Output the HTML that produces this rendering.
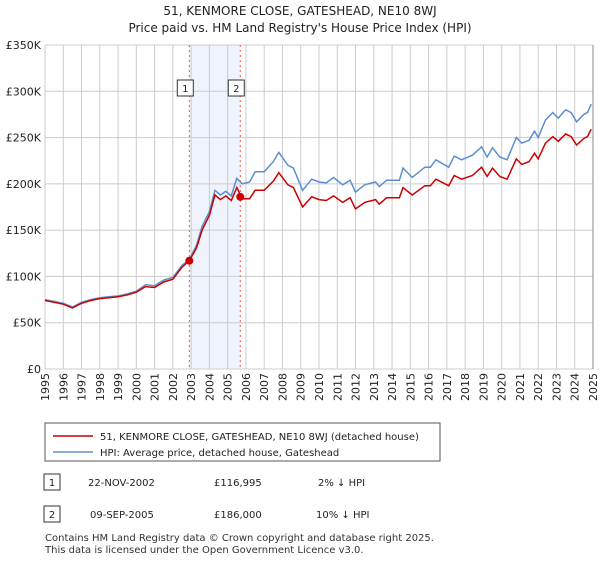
<!DOCTYPE html>
<html><head><meta charset="utf-8"><style>
body{margin:0;background:#fff;font-family:"Liberation Sans","DejaVu Sans",sans-serif;}
svg text{font-family:"DejaVu Sans","Liberation Sans",sans-serif;}
</style></head><body>
<svg width="600" height="560" xmlns="http://www.w3.org/2000/svg" id="c">
<text x="300" y="15" text-anchor="middle" font-size="12" fill="#222">51, KENMORE CLOSE, GATESHEAD, NE10 8WJ</text>
<text x="300" y="32" text-anchor="middle" font-size="12" fill="#222">Price paid vs. HM Land Registry's House Price Index (HPI)</text>
<g id="grid"></g>
<g id="marks"></g>
<g>
<rect x="45" y="423" width="395" height="38" fill="#fff" stroke="#555"/>
<line x1="53" y1="436" x2="93" y2="436" stroke="#cc0000" stroke-width="1.5"/>
<text x="100" y="440" font-size="10" fill="#222">51, KENMORE CLOSE, GATESHEAD, NE10 8WJ (detached house)</text>
<line x1="53" y1="452" x2="93" y2="452" stroke="#5b8fd0" stroke-width="1.5"/>
<text x="100" y="456" font-size="10" fill="#222">HPI: Average price, detached house, Gateshead</text>
</g>
<g font-size="10" fill="#222">
<rect x="44" y="474" width="16" height="16" fill="#fff" stroke="#333"/>
<text x="52" y="486" text-anchor="middle">1</text>
<text x="88" y="486">22-NOV-2002</text>
<text x="214" y="486">£116,995</text>
<text x="318" y="486">2% ↓ HPI</text>
<rect x="44" y="506" width="16" height="16" fill="#fff" stroke="#333"/>
<text x="52" y="518" text-anchor="middle">2</text>
<text x="90" y="518">09-SEP-2005</text>
<text x="214" y="518">£186,000</text>
<text x="316" y="518">10% ↓ HPI</text>
</g>
<text x="45" y="541" font-size="10" fill="#333">Contains HM Land Registry data © Crown copyright and database right 2025.</text>
<text x="45" y="553" font-size="10" fill="#333">This data is licensed under the Open Government Licence v3.0.</text>
</svg>
<script>
const yTicks=[0,50,100,150,200,250,300,350];
const yTickLabels=["£0","£50K","£100K","£150K","£200K","£250K","£300K","£350K"];
const xYears=[1995,1996,1997,1998,1999,2000,2001,2002,2003,2004,2005,2006,2007,2008,2009,2010,2011,2012,2013,2014,2015,2016,2017,2018,2019,2020,2021,2022,2023,2024,2025];
const hpiT=[1995,1995.5,1996,1996.5,1997,1997.5,1998,1998.5,1999,1999.5,2000,2000.5,2001,2001.5,2002,2002.5,2002.9,2003.3,2003.6,2004,2004.3,2004.6,2004.9,2005.2,2005.5,2005.8,2006.2,2006.5,2007,2007.5,2007.8,2008.3,2008.6,2009.1,2009.6,2010.0,2010.4,2010.8,2011.3,2011.7,2012.0,2012.5,2013.1,2013.3,2013.7,2014.4,2014.6,2015.1,2015.8,2016.1,2016.4,2017.1,2017.4,2017.8,2018.4,2018.9,2019.2,2019.5,2019.9,2020.3,2020.8,2021.1,2021.5,2021.8,2022.0,2022.4,2022.8,2023.1,2023.5,2023.8,2024.1,2024.5,2024.7,2024.9];
const hpiV=[75,73,71,67,72,75,77,78,79,81,84,91,90,96,99,112,118,134,154,170,193,188,192,187,206,200,202,213,213,224,234,220,217,193,205,202,201,207,199,204,191,199,202,197,204,204,217,207,218,218,226,218,230,226,231,240,229,239,229,226,250,244,247,257,250,269,277,271,280,277,267,275,277,286];
const priceV=[74,72,70,66,71,74,76,77,78,80,83,89,88,94,97,110,117,131,150,166,188,183,187,182,196,184,184,193,193,203,212,199,196,175,186,183,182,187,180,185,173,180,183,178,185,185,196,188,198,198,205,198,209,205,209,218,208,217,208,205,227,221,224,233,227,244,251,246,254,251,242,249,251,259];
const saleT=[2002.9,2005.69];
const saleV=[116.995,186];
const X0=45,X1=593,Y0=369,Y1=45;
const xs=t=>X0+(t-1995)/30*(X1-X0);
const ys=v=>Y0-v/350*(Y0-Y1);
const NS="http://www.w3.org/2000/svg";
function mk(tag,attrs,parent){const e=document.createElementNS(NS,tag);for(const k in attrs)e.setAttribute(k,attrs[k]);parent.appendChild(e);return e;}
const g=document.getElementById('grid'),m=document.getElementById('marks');
const band=mk('rect',{x:xs(saleT[0]),y:Y1,width:xs(saleT[1])-xs(saleT[0]),height:Y0-Y1,fill:'#eef3fc'},g);


yTicks.forEach((v,i)=>{
 const l=mk('line',{x1:X0,x2:X1,y1:ys(v),y2:ys(v),stroke:'#cccccc'},g);
 
 
 const t=mk('text',{x:X0-4,y:ys(v)+4,'text-anchor':'end','font-size':'11',fill:'#222'},g);
 t.textContent=yTickLabels[i];
 
 
});
xYears.forEach(yr=>{
 const l=mk('line',{x1:xs(yr),x2:xs(yr),y1:Y1,y2:Y0,stroke:'#cccccc'},g);
 
 
 const t=mk('text',{x:xs(yr),y:Y0+4,'font-size':'11',fill:'#222','text-anchor':'end',transform:`rotate(-90 ${xs(yr)} ${Y0+4})`,dy:'4'},g);
 t.textContent=yr;
 
 
});
const ax=mk('line',{x1:X1,x2:X1,y1:Y1,y2:Y0,stroke:'#888'},g);


saleT.forEach((t,i)=>{
 const l=mk('line',{x1:xs(t),x2:xs(t),y1:Y1,y2:Y0,stroke:'#e55','stroke-dasharray':'2,3'},m);
 
 
 const r=mk('rect',{x:xs(t)-12,y:80,width:16,height:16,fill:'#fff',stroke:'#333'},m);
 
 
 const tx=mk('text',{x:xs(t)-4,y:92,'text-anchor':'middle','font-size':'10',fill:'#222'},m);
 tx.textContent=String(i+1);
 
 
});
const pts=(T,V)=>T.map((t,i)=>xs(t).toFixed(1)+','+ys(V[i]).toFixed(1)).join(' ');
const hl=mk('polyline',{points:pts(hpiT,hpiV),fill:'none',stroke:'#5b8fd0','stroke-width':'1.5'},m);


const pl=mk('polyline',{points:pts(hpiT,priceV),fill:'none',stroke:'#cc0000','stroke-width':'1.5'},m);


saleT.forEach((t,i)=>{
 const c=mk('circle',{cx:xs(t),cy:ys(saleV[i]),r:4,fill:'#cc0000'},m);
 
 
});
</script>
</body></html>
